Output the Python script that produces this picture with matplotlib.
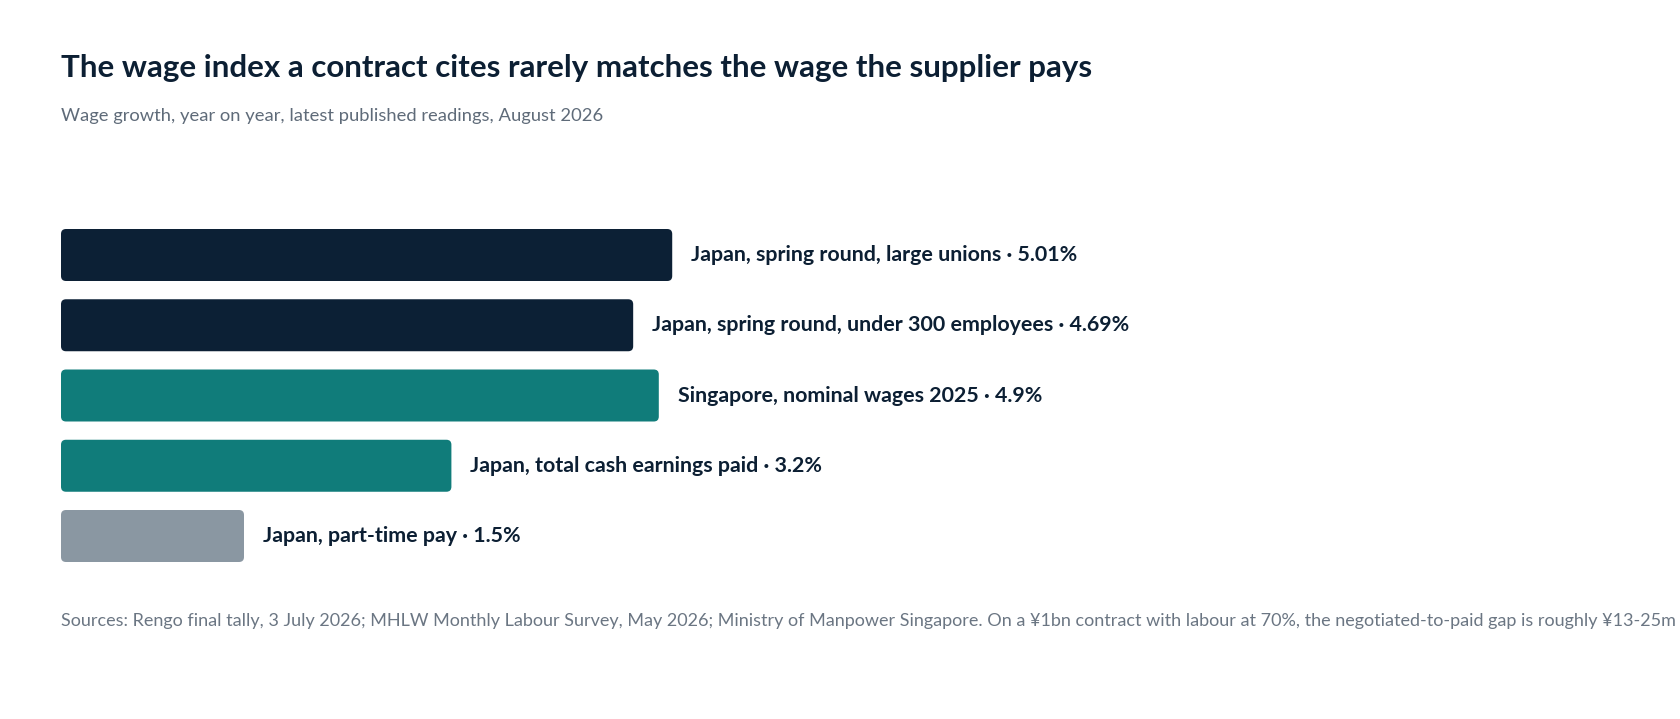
import matplotlib
matplotlib.use("Agg")
from matplotlib import pyplot as plt
from matplotlib.patches import FancyBboxPatch

# data
labels = [
    "Japan, spring round, large unions",
    "Japan, spring round, under 300 employees",
    "Singapore, nominal wages 2025",
    "Japan, total cash earnings paid",
    "Japan, part-time pay",
]
values = [5.01, 4.69, 4.9, 3.2, 1.5]
value_text = ["5.01%", "4.69%", "4.9%", "3.2%", "1.5%"]
colors = ["#0c2035", "#0c2035", "#107c7a", "#107c7a", "#8a97a2"]

title = "The wage index a contract cites rarely matches the wage the supplier pays"
subtitle = "Wage growth, year on year, latest published readings, August 2026"
footnote = ("Sources: Rengo final tally, 3 July 2026; MHLW Monthly Labour Survey, May 2026; "
            "Ministry of Manpower Singapore. On a \u00a51bn contract with labour at 70%, "
            "the negotiated-to-paid gap is roughly \u00a513-25m a year.")

W, H = 1681, 719
DPI = 100
plt.rcParams['font.family'] = ['Lato', 'DejaVu Sans']

fig = plt.figure(figsize=(W / DPI, H / DPI), dpi=DPI)
fig.patch.set_facecolor("white")

# axes in pixel layout
x0_px = 61
px_per_unit = 122.0
pitch = 70.25
ax_w_px = 1100
top_px = 255 - pitch / 2
ax_h_px = pitch * len(values)
ax = fig.add_axes([x0_px / W, 1 - (top_px + ax_h_px) / H, ax_w_px / W, ax_h_px / H])
ax.set_xlim(0, ax_w_px / px_per_unit)
ax.set_ylim(len(values) - 0.5, -0.5)
ax.axis("off")

bar_h = 52 / pitch
aspect = px_per_unit / pitch
radius = 5 / px_per_unit
for i, (v, c) in enumerate(zip(values, colors)):
    p = FancyBboxPatch((0, i - bar_h / 2), v, bar_h,
                       boxstyle="round,pad=0,rounding_size=%f" % radius,
                       mutation_aspect=aspect, facecolor=c, edgecolor="none")
    ax.add_patch(p)
    ax.annotate(labels[i] + " \u00b7 " + value_text[i], xy=(v, i),
                xytext=(19 * 72 / DPI, 0), textcoords="offset points",
                ha="left", va="center", fontsize=15.4, fontweight="bold",
                color="#0c1f33")

fig.text(x0_px / W, 1 - 77 / H, title, ha="left", va="baseline",
         fontsize=22.5, fontweight="bold", color="#0c1f33")
fig.text(x0_px / W, 1 - 121 / H, subtitle, ha="left", va="baseline",
         fontsize=13.2, color="#5f6b79")
fig.text(x0_px / W, 1 - 626 / H, footnote, ha="left", va="baseline",
         fontsize=13, color="#6b7683")

fig.savefig("out.png", dpi=DPI, facecolor="white")
